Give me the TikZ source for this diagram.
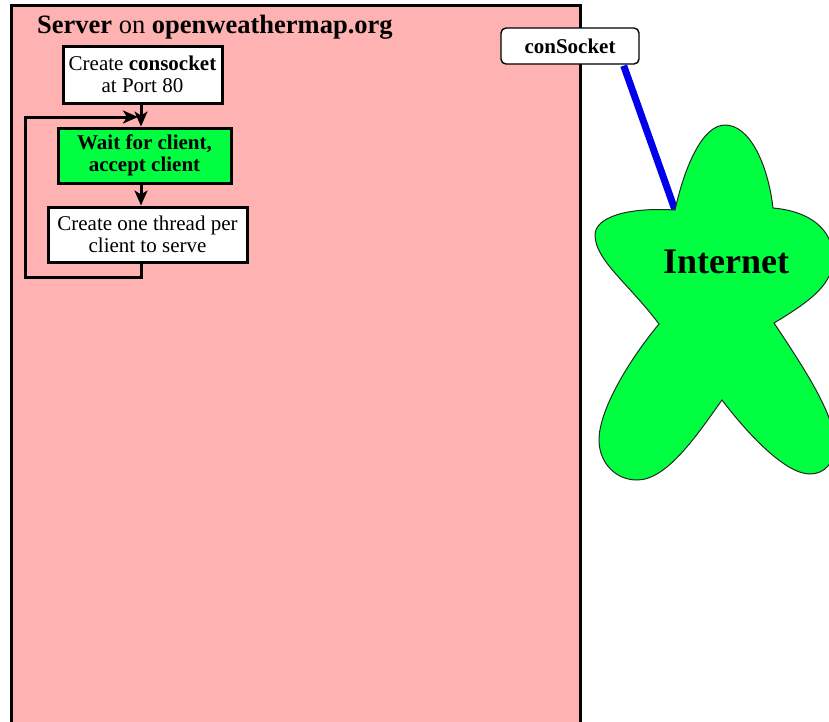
\documentclass[tikz,border=0pt]{standalone}
\usepackage{fontspec}
\setmainfont{Liberation Serif}
\usetikzlibrary{arrows.meta}
\definecolor{serverpink}{RGB}{255,178,178}
\definecolor{netgreen}{RGB}{0,255,64}
\definecolor{linkblue}{RGB}{0,0,235}
\begin{document}
\begin{tikzpicture}[x=1pt,y=-1pt,
  every node/.style={font=\fontsize{21}{22.5}\selectfont, align=center, inner sep=0pt},
  stepbox/.style={draw=black, line width=3pt, fill=white},
  activebox/.style={stepbox, fill=netgreen},
  flow/.style={line width=3pt, -{Stealth[length=15pt,width=13pt,inset=4pt]}},
  socketbox/.style={draw=black, line width=1.4pt, fill=white, rounded corners=5pt,
    font=\fontsize{21}{22.5}\selectfont\bfseries},
  cloud/.style={draw=black!85, line width=1pt, fill=netgreen},
  link/.style={draw=linkblue, line width=7pt}
]
\useasboundingbox (0,0) rectangle (829,721);
\clip (0,0) rectangle (829,721);
\fill[white] (0,0) rectangle (829,721);

% server area
\draw[fill=serverpink, line width=3pt] (11,5) rectangle (580,740);
\node[font=\fontsize{26.5}{28}\selectfont, anchor=base west] (title) at (37,33)
  {\textbf{Server} on \textbf{openweathermap.org}};

% server flow chart
\coordinate (col) at (141,0);
\node[stepbox, minimum width=159pt, minimum height=57pt] (create) at (142.5,74.5)
  {Create \textbf{consocket}\\at Port 80};
\node[activebox, minimum width=173pt, minimum height=55pt, font=\fontsize{21}{22.5}\selectfont\bfseries] (wait) at (144.5,155.5)
  {Wait for client,\\accept client};
\node[stepbox, minimum width=199pt, minimum height=55pt] (thread) at (147.5,234.5)
  {Create one thread per\\client to serve};

\draw[flow] (create.south -| col) -- (wait.north -| col);
\draw[flow] (wait.south -| col) -- (thread.north -| col);
\coordinate (loopbot) at (25,277);
\coordinate (merge) at (138,117);
\draw[flow] (thread.south -| col) |- (loopbot) |- (merge);

% socket link to the internet
\coordinate (notch) at (675,210);
\node[socketbox, minimum width=138pt, minimum height=36pt] (sock) at (570,46) {conSocket};
\draw[link] ([xshift=-16pt,yshift=-1pt]sock.south east) -- (notch);

% internet cloud
\draw[cloud]
  (notch) .. controls (685,165) and (703,125) .. (725,125)
  .. controls (750,125) and (768,165) .. (773,208)
  .. controls (808,211) and (833,228) .. (833,258)
  .. controls (833,283) and (814,299) .. (774,323)
  .. controls (804,368) and (835,415) .. (835,445)
  .. controls (835,462) and (825,474) .. (810,474)
  .. controls (785,474) and (747,433) .. (722,400)
  .. controls (697,435) and (667,480) .. (637,480)
  .. controls (615,480) and (599,462) .. (599,440)
  .. controls (599,410) and (629,360) .. (659,324)
  .. controls (629,284) and (595,260) .. (595,235)
  .. controls (595,218) and (625,207) .. (notch) -- cycle;
\node[font=\fontsize{36}{38}\selectfont\bfseries] (net) at (726,262) {Internet};
\end{tikzpicture}
\end{document}
